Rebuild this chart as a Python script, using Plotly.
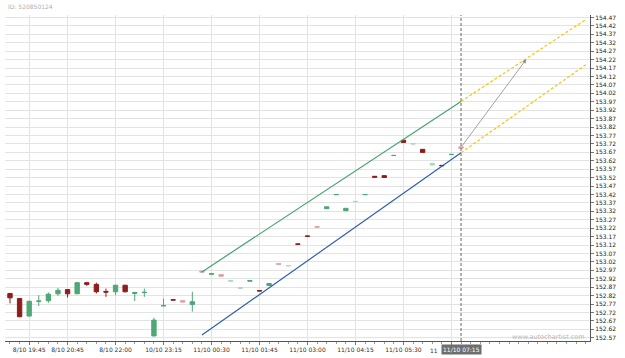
import plotly.graph_objects as go

# ---------------- data ----------------
times = [
    "8/10 19:15", "8/10 19:30", "8/10 19:45", "8/10 20:00", "8/10 20:15", "8/10 20:30",
    "8/10 20:45", "8/10 21:00", "8/10 21:15", "8/10 21:30", "8/10 21:45", "8/10 22:00",
    "8/10 22:15", "8/10 22:30", "8/10 22:45", "10/10 23:00", "10/10 23:15", "10/10 23:30",
    "10/10 23:45", "11/10 00:00", "11/10 00:15", "11/10 00:30", "11/10 00:45", "11/10 01:00",
    "11/10 01:15", "11/10 01:30", "11/10 01:45", "11/10 02:00", "11/10 02:15", "11/10 02:30",
    "11/10 02:45", "11/10 03:00", "11/10 03:15", "11/10 03:30", "11/10 03:45", "11/10 04:00",
    "11/10 04:15", "11/10 04:30", "11/10 04:45", "11/10 05:00", "11/10 05:15", "11/10 05:30",
    "11/10 05:45", "11/10 06:00", "11/10 06:15", "11/10 06:30", "11/10 06:45", "11/10 07:00",
]
tick_idx = [2, 6, 11, 16, 21, 26, 31, 36, 41, 46]
hidden_tick = 46          # label mostly covered by the current-time box
hidden_tick_visible = "11"
current_label = "11/10 07:15"

open_ = [152.833, 152.803, 152.699, 152.786, 152.790, 152.831, 152.856, 152.831, 152.897, 152.887,
         152.845, 152.843, 152.882, 152.833, 152.838, 152.581, 152.759, 152.796, 152.790, 152.768,
         152.966, 152.947, 152.945, 152.906, 152.864, 152.906, 152.850, 152.880, 153.009, 152.997,
         153.127, 153.174, 153.229, 153.336, 153.419, 153.324, 153.378, 153.419, 153.528, 153.532,
         153.651, 153.742, 153.720, 153.688, 153.595, 153.593, 153.657, 153.703]
high = [152.836, 152.806, 152.790, 152.823, 152.839, 152.866, 152.858, 152.901, 152.902, 152.897,
        152.862, 152.884, 152.884, 152.842, 152.862, 152.689, 152.803, 152.797, 152.792, 152.843,
        152.968, 152.952, 152.946, 152.911, 152.869, 152.910, 152.851, 152.893, 153.010, 152.999,
        153.128, 153.175, 153.230, 153.349, 153.421, 153.339, 153.380, 153.421, 153.529, 153.533,
        153.653, 153.746, 153.722, 153.689, 153.606, 153.594, 153.659, 153.705]
low = [152.774, 152.692, 152.697, 152.758, 152.778, 152.819, 152.809, 152.829, 152.878, 152.833,
       152.813, 152.823, 152.839, 152.788, 152.813, 152.579, 152.758, 152.793, 152.780, 152.725,
       152.958, 152.946, 152.934, 152.905, 152.860, 152.905, 152.846, 152.878, 153.006, 152.996,
       153.124, 153.171, 153.226, 153.333, 153.418, 153.322, 153.377, 153.418, 153.520, 153.519,
       153.650, 153.727, 153.719, 153.669, 153.594, 153.590, 153.656, 153.694]
close = [152.807, 152.695, 152.787, 152.788, 152.829, 152.852, 152.831, 152.897, 152.887, 152.843,
         152.841, 152.882, 152.843, 152.839, 152.840, 152.675, 152.761, 152.794, 152.782, 152.784,
         152.960, 152.951, 152.935, 152.909, 152.867, 152.909, 152.848, 152.892, 153.007, 152.998,
         153.125, 153.172, 153.227, 153.347, 153.420, 153.338, 153.379, 153.420, 153.523, 153.521,
         153.652, 153.729, 153.721, 153.670, 153.605, 153.591, 153.658, 153.695]

# channel (resistance / support) and projections
resist_x = [20, 47]
resist_y = [152.961, 153.972]
support_x = [20, 47]
support_y = [152.586, 153.668]
proj_up_x = [47, 60.0]
proj_up_y = [153.972, 154.458]
proj_lo_x = [47, 60.0]
proj_lo_y = [153.668, 154.190]
arrow_from = (47, 153.700)
arrow_to = (53.8, 154.222)

y_ticks = [round(152.57 + 0.05 * i, 2) for i in range(39)]

# ---------------- style ----------------
FONT = "DejaVu Sans"
faded_idx = {18, 20, 22, 28, 32, 47, 23, 24, 29, 36, 42, 44}
COL = {
    ("down", False): "#8e1d1d",
    ("down", True): "#d9a3a3",
    ("up", False): "#4fa777",
    ("up", True): "#a9d9bb",
}

fig = go.Figure()

groups = {}
for i in range(len(open_)):
    d = "up" if close[i] >= open_[i] else "down"
    key = (d, i in faded_idx)
    groups.setdefault(key, []).append(i)

for key, idxs in groups.items():
    c = COL[key]
    fig.add_trace(go.Candlestick(
        x=idxs,
        open=[open_[i] for i in idxs],
        high=[high[i] for i in idxs],
        low=[low[i] for i in idxs],
        close=[close[i] for i in idxs],
        increasing=dict(line=dict(color=c, width=1), fillcolor=c),
        decreasing=dict(line=dict(color=c, width=1), fillcolor=c),
        whiskerwidth=0,
        showlegend=False,
        hoverinfo="skip",
    ))

fig.add_trace(go.Scatter(x=resist_x, y=resist_y, mode="lines",
                         line=dict(color="#45a36c", width=1.2), showlegend=False, hoverinfo="skip"))
fig.add_trace(go.Scatter(x=support_x, y=support_y, mode="lines",
                         line=dict(color="#2f5fae", width=1.2), showlegend=False, hoverinfo="skip"))
fig.add_trace(go.Scatter(x=proj_up_x, y=proj_up_y, mode="lines",
                         line=dict(color="#f7c600", width=1.2, dash="3px,2px"), showlegend=False, hoverinfo="skip"))
fig.add_trace(go.Scatter(x=proj_lo_x, y=proj_lo_y, mode="lines",
                         line=dict(color="#f7c600", width=1.2, dash="3px,2px"), showlegend=False, hoverinfo="skip"))

# vertical dashed line at the last bar
fig.add_shape(type="line", x0=47, x1=47, xref="x", y0=0, y1=1, yref="paper",
              line=dict(color="#666666", width=1, dash="3px,2px"))

fig.add_annotation(x=arrow_to[0], y=arrow_to[1], ax=arrow_from[0], ay=arrow_from[1],
                   xref="x", yref="y", axref="x", ayref="y", text="",
                   showarrow=True, arrowhead=2, arrowsize=1, arrowwidth=0.8, arrowcolor="#8a8a8a")

# current-time box on the x axis, and the visible start of the covered tick label
fig.add_annotation(x=47, y=0, xref="x", yref="paper", yanchor="top", yshift=-3,
                   text=current_label, showarrow=False, bgcolor="#6e6e6e", borderpad=1,
                   font=dict(family=FONT, size=6, color="#ffffff"))
fig.add_annotation(x=47, y=0, xref="x", yref="paper", xanchor="right", yanchor="top",
                   xshift=-21, yshift=-4, text=hidden_tick_visible, showarrow=False,
                   font=dict(family=FONT, size=6, color="#333333"))

fig.add_annotation(x=0, y=1, xref="paper", yref="paper", xanchor="left", yanchor="middle",
                   xshift=1, yshift=9, text="ID: 520850124", showarrow=False,
                   font=dict(family=FONT, size=6, color="#b0b0b0"))
fig.add_annotation(x=1, y=0, xref="paper", yref="paper", xanchor="right", yanchor="middle",
                   xshift=-3, yshift=4, text="www.autochartist.com", showarrow=False,
                   font=dict(family=FONT, size=6.5, color="#b8b8b8"))

fig.update_layout(
    width=625, height=358,
    margin=dict(l=5, r=35, t=15, b=15),
    paper_bgcolor="white", plot_bgcolor="white",
    font=dict(family=FONT, size=6, color="#333333"),
    showlegend=False,
    boxgap=0.35,
)
fig.update_xaxes(
    range=[-0.52, 60.44],
    tickmode="array", tickvals=tick_idx,
    ticktext=["" if i == hidden_tick else times[i] for i in tick_idx],
    showgrid=True, gridcolor="#e3e3e3", gridwidth=1,
    zeroline=False, showline=True, linecolor="#555555", linewidth=1,
    ticks="outside", ticklen=3, tickcolor="#777777",
    minor=dict(dtick=1, tick0=0, ticks="outside", ticklen=2, tickcolor="#999999", showgrid=False),
    rangeslider=dict(visible=False),
    tickfont=dict(family=FONT, size=6, color="#333333"),
)
fig.update_yaxes(
    side="right", range=[152.551, 154.485],
    tickmode="array", tickvals=y_ticks, ticktext=[f"{v:.2f}" for v in y_ticks],
    showgrid=True, gridcolor="#e3e3e3", gridwidth=1,
    zeroline=False, showline=True, linecolor="#555555", linewidth=1,
    ticks="outside", ticklen=3, tickcolor="#777777",
    tickfont=dict(family=FONT, size=6, color="#222222"),
)

fig.write_html("out.html")
